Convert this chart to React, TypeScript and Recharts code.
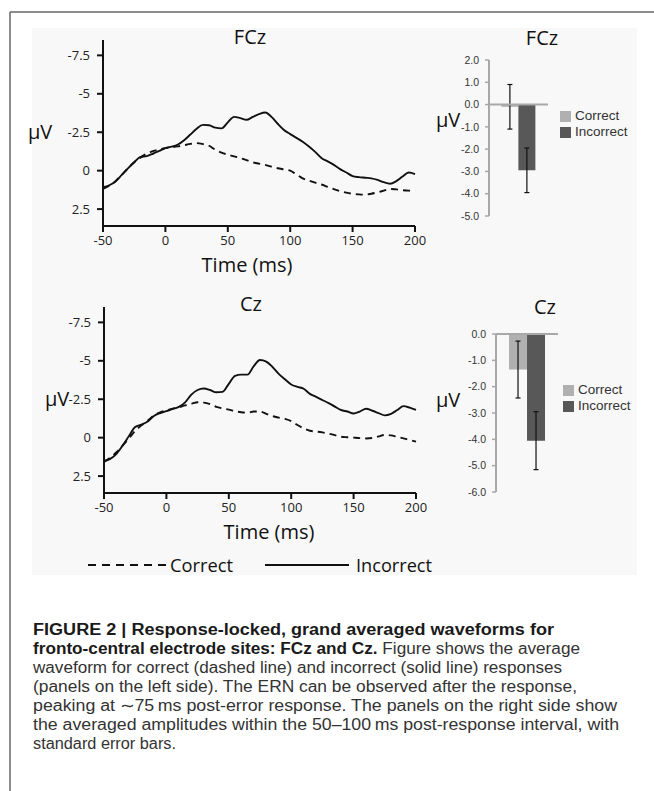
import {
  Bar,
  BarChart,
  ErrorBar,
  Legend,
  Line,
  LineChart,
  ReferenceLine,
  XAxis,
  YAxis,
} from "recharts";

// time points (ms) shared by all waveforms
const times = [
  -50, -45, -40, -35, -30, -25, -20, -15, -10, -5,
  0, 5, 10, 15, 20, 25, 30, 35, 40, 45,
  50, 55, 60, 65, 70, 75, 80, 85, 90, 95,
  100, 105, 110, 115, 120, 125, 130, 135, 140, 145,
  150, 155, 160, 165, 170, 175, 180, 185, 190, 195,
  200,
];

// amplitudes in µV (negative plotted up)
const fczCorrect = [
  1.19, 0.98, 0.68, 0.28, -0.15, -0.55, -0.85, -1.1, -1.27, -1.38,
  -1.47, -1.52, -1.58, -1.66, -1.74, -1.79, -1.73, -1.62, -1.36, -1.18,
  -1.04, -0.93, -0.82, -0.68, -0.54, -0.46, -0.38, -0.26, -0.16, -0.08,
  0, 0.25, 0.5, 0.65, 0.78, 0.9, 1.05, 1.2, 1.33, 1.43,
  1.5, 1.54, 1.56, 1.5, 1.41, 1.3, 1.19, 1.22, 1.27, 1.3,
  1.34,
];
const fczIncorrect = [
  1.08, 0.95, 0.7, 0.28, -0.15, -0.55, -0.9, -0.95, -1.1, -1.28,
  -1.47, -1.56, -1.7, -1.98, -2.35, -2.72, -2.98, -2.95, -2.8, -2.75,
  -3.14, -3.5, -3.42, -3.31, -3.5, -3.68, -3.78, -3.5, -3.05, -2.65,
  -2.38, -2.13, -1.88, -1.57, -1.22, -0.83, -0.6, -0.38, -0.1, 0.12,
  0.35, 0.42, 0.46, 0.5, 0.6, 0.75, 0.85, 0.68, 0.38, 0.12,
  0.22,
];
const czCorrect = [
  1.58, 1.3, 0.95, 0.5, 0.05, -0.45, -0.8, -1.1, -1.45, -1.65,
  -1.77, -1.88, -1.98, -2.1, -2.2, -2.3, -2.28, -2.18, -2.0, -1.9,
  -1.82, -1.72, -1.65, -1.62, -1.7, -1.7, -1.55, -1.4, -1.3, -1.22,
  -1.08, -0.82, -0.6, -0.45, -0.4, -0.34, -0.26, -0.16, -0.06, -0.03,
  0, 0.03, 0.05, 0.02, -0.08, -0.18, -0.15, -0.05, 0.05, 0.15,
  0.26,
];
const czIncorrect = [
  1.52, 1.38, 1.05, 0.5, -0.11, -0.7, -0.85, -1.05, -1.41, -1.6,
  -1.73, -1.87, -2.0, -2.3, -2.8, -3.1, -3.2, -3.1, -2.95, -2.98,
  -3.5, -4.02, -4.1, -4.1, -4.65, -5.05, -4.95, -4.6, -4.15, -3.8,
  -3.46, -3.3, -3.18, -2.85, -2.65, -2.45, -2.25, -2.02, -1.8, -1.7,
  -1.57, -1.7, -1.88, -1.75, -1.6, -1.45, -1.55, -1.8, -2.05, -1.95,
  -1.8,
];

const voltTicks = [-7.5, -5, -2.5, 0, 2.5];
const timeTicks = [-50, 0, 50, 100, 150, 200];

// mean amplitude 50-100 ms, [correct, incorrect], with standard errors
const conditions = ["Correct", "Incorrect"];
const fczMeans = [-0.1, -2.95];
const fczErrors = [1.0, 1.0];
const czMeans = [-1.35, -4.05];
const czErrors = [1.08, 1.1];
const fczBarTicks = [2, 1, 0, -1, -2, -3, -4, -5];
const czBarTicks = [0, -1, -2, -3, -4, -5, -6];

const captionLines = [
  "waveform for correct (dashed line) and incorrect (solid line) responses",
  "(panels on the left side). The ERN can be observed after the response,",
  "peaking at \u223c75\u2009ms post-error response. The panels on the right side show",
  "the averaged amplitudes within the 50\u2013100\u2009ms post-response interval, with",
  "standard error bars.",
];
const captionWidths = [529, 544, 584, 586, 143];

const SANS = "'Open Sans', sans-serif";
const CAPTION = "'Liberation Sans', Arial, sans-serif";
const EXCEL = "'Liberation Sans', Arial, sans-serif";

function Waveform({
  title,
  correct,
  incorrect,
  left,
  top,
  timeLabelX,
  unitX,
}: {
  title: string;
  correct: number[];
  incorrect: number[];
  left: number;
  top: number;
  timeLabelX: number;
  unitX: number;
}) {
  const data = times.map((t, i) => ({ t, correct: correct[i], incorrect: incorrect[i] }));
  const overlay = { position: "absolute" as const, fontFamily: SANS, color: "#111", fontSize: 20, lineHeight: "24px" };
  return (
    <div style={{ position: "absolute", left, top, width: 440, height: 280 }}>
      <LineChart width={440} height={280} data={data} margin={{ top: 40, right: 25, bottom: 24, left: 58 }}>
        <XAxis
          dataKey="t"
          type="number"
          domain={[-50, 200]}
          ticks={timeTicks}
          height={30}
          axisLine={{ stroke: "#111", strokeWidth: 2 }}
          tickLine={{ stroke: "#111", strokeWidth: 2 }}
          tickSize={6}
          tickMargin={4}
          tick={{ fontSize: 13, fill: "#222", fontFamily: SANS }}
        />
        <YAxis
          type="number"
          domain={[-8.5, 3.6]}
          reversed
          allowDataOverflow
          ticks={voltTicks}
          width={45}
          axisLine={{ stroke: "#111", strokeWidth: 2 }}
          tickLine={{ stroke: "#111", strokeWidth: 2 }}
          tickSize={6}
          tickMargin={7}
          tick={{ fontSize: 13, fill: "#222", fontFamily: SANS }}
        />
        <Line
          type="monotone"
          dataKey="correct"
          stroke="#111"
          strokeWidth={1.9}
          strokeDasharray="7 5"
          dot={false}
          isAnimationActive={false}
        />
        <Line
          type="monotone"
          dataKey="incorrect"
          stroke="#111"
          strokeWidth={1.9}
          dot={false}
          isAnimationActive={false}
        />
      </LineChart>
      <div style={{ ...overlay, left: 230, top: 25, width: 40, textAlign: "center" }}>{title}</div>
      <div style={{ ...overlay, left: unitX, top: 120 }}>µV</div>
      <div style={{ ...overlay, left: timeLabelX - 60, top: 253, width: 120, textAlign: "center" }}>Time (ms)</div>
    </div>
  );
}

function AmplitudeBars({
  title,
  means,
  errors,
  ticks,
  left,
  top,
  margin,
  titleX,
  titleY,
  unitY,
  legendLeft,
  legendTop,
}: {
  title: string;
  means: number[];
  errors: number[];
  ticks: number[];
  left: number;
  top: number;
  margin: { top: number; right: number; bottom: number; left: number };
  titleX: number;
  titleY: number;
  unitY: number;
  legendLeft: number;
  legendTop: number;
}) {
  const data = [
    { site: title, correct: means[0], incorrect: means[1], correctErr: errors[0], incorrectErr: errors[1] },
  ];
  const overlay = { position: "absolute" as const, fontFamily: SANS, color: "#111", fontSize: 20, lineHeight: "24px" };
  return (
    <div style={{ position: "absolute", left, top, width: 224, height: 280 }}>
      <BarChart width={224} height={280} data={data} margin={margin} barGap={0} barCategoryGap="21%">
        <XAxis dataKey="site" hide />
        <YAxis
          type="number"
          domain={[ticks[ticks.length - 1], ticks[0]]}
          ticks={ticks}
          width={40}
          tickFormatter={(v: number) => v.toFixed(1)}
          axisLine={{ stroke: "#a8a8a8", strokeWidth: 2 }}
          tickLine={{ stroke: "#a8a8a8", strokeWidth: 1.5 }}
          tickSize={4}
          tickMargin={6}
          tick={{ fontSize: 10.5, fill: "#333", fontFamily: EXCEL }}
        />
        <Bar dataKey="correct" name={conditions[0]} fill="#b0b0b0" isAnimationActive={false}>
          <ErrorBar dataKey="correctErr" direction="y" width={2.5} stroke="#111" strokeWidth={1.2} />
        </Bar>
        <Bar dataKey="incorrect" name={conditions[1]} fill="#585858" isAnimationActive={false}>
          <ErrorBar dataKey="incorrectErr" direction="y" width={2.5} stroke="#111" strokeWidth={1.2} />
        </Bar>
        <ReferenceLine y={0} stroke="#a8a8a8" strokeWidth={2} />
        <Legend
          layout="vertical"
          align="center"
          verticalAlign="middle"
          iconType="square"
          iconSize={11}
          wrapperStyle={{ left: legendLeft, top: legendTop, width: 90, fontFamily: EXCEL, fontSize: 13.5, lineHeight: "16px" }}
          formatter={(value: string) => <span style={{ color: "#333" }}>{value}</span>}
        />
      </BarChart>
      <div style={{ ...overlay, left: titleX - 30, top: titleY - 12, width: 60, textAlign: "center" }}>{title}</div>
      <div style={{ ...overlay, left: 6, top: unitY - 12 }}>µV</div>
    </div>
  );
}

export default function App() {
  return (
    <div style={{ position: "absolute", left: 0, top: 0, width: 654, height: 791, background: "#fff", overflow: "hidden" }}>
      <svg width={654} height={791} style={{ position: "absolute", left: 0, top: 0 }}>
        <rect x={32} y={28} width={605} height={547} fill="#f8f8f8" />
        <line x1={10} y1={12} x2={654} y2={12} stroke="#666" strokeWidth={1.5} />
        <line x1={10} y1={12} x2={10} y2={791} stroke="#666" strokeWidth={1.5} />
      </svg>

      <Waveform title="FCz" correct={fczCorrect} incorrect={fczIncorrect} left={0} top={0} timeLabelX={247} unitX={28} />
      <Waveform title="Cz" correct={czCorrect} incorrect={czIncorrect} left={1} top={267} timeLabelX={268} unitX={44} />

      <AmplitudeBars
        title="FCz"
        means={fczMeans}
        errors={fczErrors}
        ticks={fczBarTicks}
        left={430}
        top={0}
        margin={{ top: 60, right: 106, bottom: 64, left: 19 }}
        titleX={112}
        titleY={38}
        unitY={120}
        legendLeft={130}
        legendTop={108}
      />
      <AmplitudeBars
        title="Cz"
        means={czMeans}
        errors={czErrors}
        ticks={czBarTicks}
        left={430}
        top={280}
        margin={{ top: 54, right: 96, bottom: 68, left: 26 }}
        titleX={115}
        titleY={27}
        unitY={120}
        legendLeft={133}
        legendTop={102}
      />

      <svg width={654} height={791} style={{ position: "absolute", left: 0, top: 0, pointerEvents: "none" }}>
        <line x1={88} y1={565} x2={168} y2={565} stroke="#111" strokeWidth={1.8} strokeDasharray="8 6" />
        <text x={170} y={572} fontFamily={SANS} fontSize={19} fill="#111" textLength={63} lengthAdjust="spacingAndGlyphs">
          Correct
        </text>
        <line x1={265} y1={565} x2={349} y2={565} stroke="#111" strokeWidth={1.8} />
        <text x={356} y={572} fontFamily={SANS} fontSize={19} fill="#111" textLength={76} lengthAdjust="spacingAndGlyphs">
          Incorrect
        </text>

        <text x={33} y={635} fontFamily={CAPTION} fontSize={16} fontWeight="bold" fill="#1a1a1a" textLength={521} lengthAdjust="spacingAndGlyphs">
          FIGURE 2 | Response-locked, grand averaged waveforms for
        </text>
        <text x={33} y={654} fontFamily={CAPTION} fontSize={16} fill="#333" textLength={547} lengthAdjust="spacingAndGlyphs">
          <tspan fontWeight="bold" fill="#1a1a1a">fronto-central electrode sites: FCz and Cz.</tspan>
          <tspan> Figure shows the average</tspan>
        </text>
        {captionLines.map((line, i) => (
          <text
            key={i}
            x={33}
            y={673 + i * 19}
            fontFamily={CAPTION}
            fontSize={16}
            fill="#333"
            textLength={captionWidths[i]}
            lengthAdjust="spacingAndGlyphs"
          >
            {line}
          </text>
        ))}
      </svg>
    </div>
  );
}
